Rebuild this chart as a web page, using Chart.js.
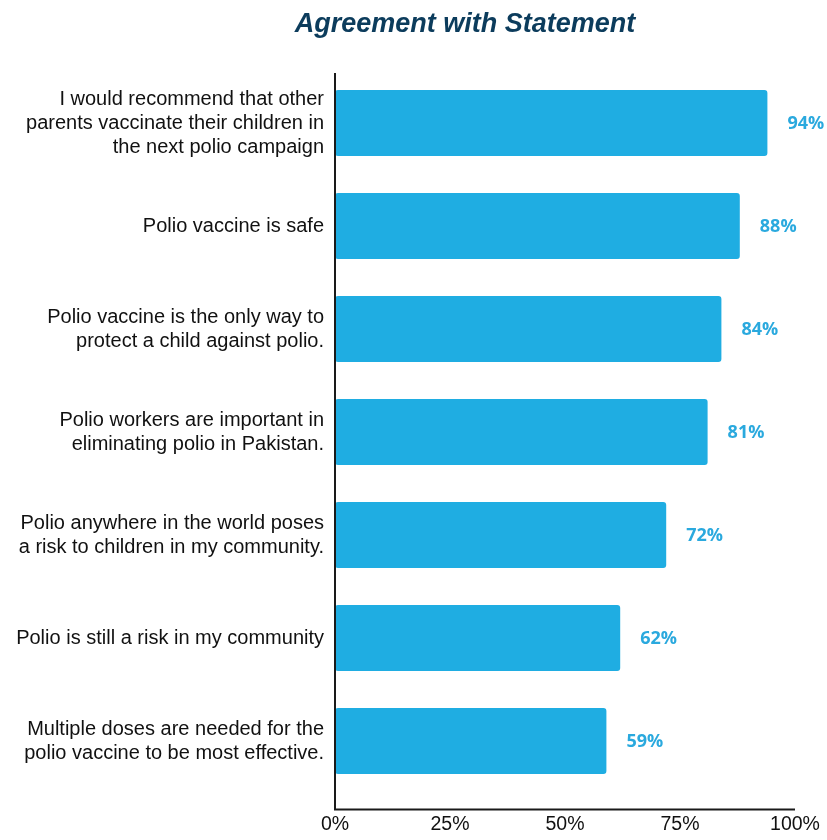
<!DOCTYPE html>
<html>
<head>
<meta charset="utf-8">
<script src="https://cdn.jsdelivr.net/npm/chart.js@4"></script>
<style>
    body { margin: 0; background: #fff; }
    canvas { display: block; }
</style>
</head>
<body>
<canvas id="agreementChart" width="827" height="840"></canvas>
<script>
const statements = [
    ["I would recommend that other", "parents vaccinate their children in", "the next polio campaign"],
    "Polio vaccine is safe",
    ["Polio vaccine is the only way to", "protect a child against polio."],
    ["Polio workers are important in", "eliminating polio in Pakistan."],
    ["Polio anywhere in the world poses", "a risk to children in my community."],
    "Polio is still a risk in my community",
    ["Multiple doses are needed for the", "polio vaccine to be most effective."]
];
const agreePct = [94, 88, 84, 81, 72, 62, 59];
const xTicks = [0, 25, 50, 75, 100];
const chartTitle = "Agreement with Statement";

const barColor = '#1fade2';
const labelColor = '#2aa9de';

// title is not centred on the canvas, so it is drawn here
const titlePlugin = {
    id: 'titleText',
    afterDraw: (chart) => {
        const ctx = chart.ctx;
        ctx.save();
        ctx.font = 'italic bold 27px "Liberation Sans", Arial, sans-serif';
        ctx.fillStyle = '#0c3c5c';
        ctx.textAlign = 'center';
        ctx.textBaseline = 'alphabetic';
        ctx.fillText(chartTitle, 465, 32);
        ctx.restore();
    }
};

// axis lines run past the category band, like in the original
const axisLines = {
    id: 'axisLines',
    afterDraw: (chart) => {
        const ctx = chart.ctx;
        const a = chart.chartArea;
        const bottom = a.bottom + 17;
        ctx.save();
        ctx.strokeStyle = '#1a1a1a';
        ctx.lineWidth = 2;
        ctx.beginPath();
        ctx.moveTo(a.left, a.top + 1.5);
        ctx.lineTo(a.left, bottom);
        ctx.lineTo(a.right, bottom);
        ctx.stroke();
        ctx.restore();
    }
};

const valueLabels = {
    id: 'valueLabels',
    afterDatasetsDraw: (chart) => {
        const ctx = chart.ctx;
        const meta = chart.getDatasetMeta(0);
        ctx.save();
        ctx.font = 'bold 18px "Open Sans", sans-serif';
        ctx.fillStyle = labelColor;
        ctx.textAlign = 'left';
        ctx.textBaseline = 'middle';
        meta.data.forEach((bar, i) => {
            ctx.fillText(agreePct[i] + '%', bar.x + 20, bar.y + 1);
        });
        ctx.restore();
    }
};

const data = {
    labels: statements,
    datasets: [
        {
            label: 'Agree',
            data: agreePct,
            backgroundColor: barColor,
            borderRadius: 3,
            borderSkipped: false,
            barPercentage: 0.64,
            categoryPercentage: 1
        }
    ]
};

const config = {
    type: 'bar',
    data: data,
    options: {
        indexAxis: 'y',
        responsive: false,
        animation: false,
        layout: {
            padding: { top: 71.5, right: 32, left: 0, bottom: 0 }
        },
        plugins: {
            legend: { display: false },
            title: { display: false },
            tooltip: { enabled: false }
        },
        scales: {
            x: {
                min: 0,
                max: 100,
                afterBuildTicks: (scale) => {
                    scale.ticks = xTicks.map(v => ({ value: v }));
                },
                afterFit: (scale) => {
                    scale.height = 47.5;
                    scale.paddingLeft = 0;
                    scale.paddingRight = 0;
                },
                grid: { display: false, drawTicks: false },
                border: { display: false },
                ticks: {
                    padding: 20,
                    color: '#111',
                    font: { family: '"Liberation Sans", Arial, sans-serif', size: 19.5 },
                    callback: (val) => val + '%'
                }
            },
            y: {
                afterFit: (scale) => { scale.width = 335; },
                grid: { display: false, drawTicks: false },
                border: { display: false },
                ticks: {
                    padding: 11,
                    color: '#111',
                    font: { family: '"Liberation Sans", Arial, sans-serif', size: 20, lineHeight: 1.2 }
                }
            }
        }
    },
    plugins: [titlePlugin, axisLines, valueLabels]
};

window.agreementChart = new Chart(document.getElementById('agreementChart'), config);
</script>
</body>
</html>
